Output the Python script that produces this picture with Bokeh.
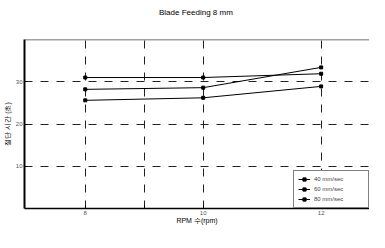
from bokeh.plotting import figure
from bokeh.models import FixedTicker, Span, Legend, LegendItem, Range1d, Title
from bokeh.embed import file_html
from bokeh.resources import INLINE

rpm = [8, 10, 12]
grid_x = [8, 9, 10, 12]
x_labels = {8: "8", 9: "", 10: "10", 12: "12"}
y_ticks = [10, 20, 30]
series_names = ["40 mm/sec", "60 mm/sec", "80 mm/sec"]
series_a = [31.0, 31.0, 31.9]
series_b = [28.2, 28.6, 33.4]
series_c = [25.6, 26.2, 28.9]

p = figure(width=369, height=226, output_backend="svg", toolbar_location=None,
           x_range=Range1d(6.97, 12.82), y_range=Range1d(0, 40),
           min_border_left=19, min_border_right=0, min_border_top=10, min_border_bottom=0,
           title="Blade Feeding  8 mm")
p.title.align = "center"
p.title.text_font = "Liberation Sans"
p.title.text_font_size = "8px"
p.title.text_font_style = "normal"
p.title.text_color = "black"
p.title.offset = 0
# empty spacer between the title and the frame
p.add_layout(Title(text=" ", text_font_size="5px"), "above")
p.outline_line_color = None
p.background_fill_color = "white"

p.xaxis.ticker = FixedTicker(ticks=grid_x)
p.xaxis.major_label_overrides = x_labels
p.yaxis.ticker = FixedTicker(ticks=y_ticks)
for ax in (p.xaxis, p.yaxis):
    ax.axis_line_color = "black"
    ax.major_tick_line_color = "black"
    ax.major_tick_in = 3
    ax.major_tick_out = 0
    ax.minor_tick_line_color = None
    ax.major_label_text_font = "Liberation Sans"
    ax.major_label_text_font_size = "6px"
    ax.major_label_text_color = "#555555"
    ax.axis_label_text_font = "Liberation Sans"
    ax.axis_label_text_font_size = "7px"
    ax.axis_label_text_font_style = "normal"
    ax.axis_label_text_color = "black"
p.yaxis.axis_line_width = 2
p.xaxis.axis_line_width = 1.5
p.xaxis.axis_label = "RPM 수(rpm)"
p.yaxis.axis_label = "절단 시간 (초)"
p.xaxis.axis_label_standoff = -1
p.yaxis.axis_label_standoff = 2
p.xaxis.major_label_standoff = 2
p.yaxis.major_label_standoff = 2

p.xgrid.ticker = FixedTicker(ticks=grid_x)
p.ygrid.ticker = FixedTicker(ticks=y_ticks)
for g in (p.xgrid, p.ygrid):
    g.grid_line_color = "#222222"
    g.grid_line_dash = "8 8"
    g.grid_line_width = 1

p.add_layout(Span(location=40, dimension="width", line_color="#444444", line_width=1.5))

items = []
for name, vals in zip(series_names, [series_a, series_b, series_c]):
    r1 = p.line(rpm, vals, line_color="black", line_width=1)
    r2 = p.scatter(rpm, vals, marker="square", size=3, color="black")
    items.append(LegendItem(label=name, renderers=[r1, r2]))

legend = Legend(items=items, location="bottom_right", border_line_color="black",
                border_line_width=1, label_text_font="Liberation Sans",
                label_text_font_size="6px", glyph_width=12, glyph_height=8,
                label_height=8, label_width=50, spacing=2, padding=4, margin=0,
                label_standoff=4, background_fill_alpha=1)
p.add_layout(legend)

open("out.html", "w").write(file_html(p, INLINE))
